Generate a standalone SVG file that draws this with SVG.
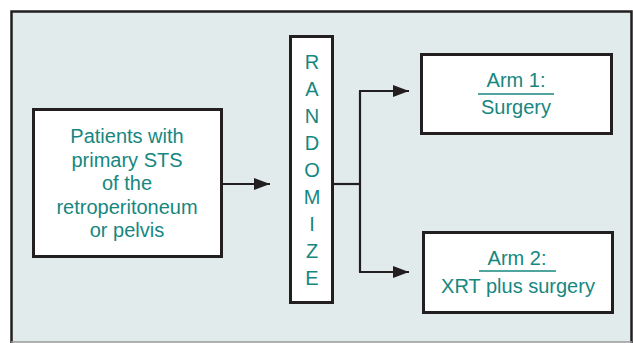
<svg xmlns="http://www.w3.org/2000/svg" width="633" height="343" viewBox="0 0 633 343">
<defs>
<style>
.box{fill:#ffffff;stroke:#231f20;stroke-width:3}
.t{font-family:"Liberation Sans",Arial,sans-serif;font-size:20px;fill:#16877f;text-anchor:middle}
.c{fill:none;stroke:#231f20;stroke-width:2.2}
.u{stroke:#16877f;stroke-width:1.5}
</style>
<marker id="ah" markerWidth="16" markerHeight="12" refX="16" refY="6" orient="auto" markerUnits="userSpaceOnUse">
<path d="M0,0 L16,6 L0,12 Z" fill="#231f20"/>
</marker>
</defs>
<rect x="0" y="0" width="633" height="343" fill="#ffffff"/>
<rect x="11" y="11" width="620" height="331" fill="#e1ebeb"/>
<path d="M11.5,343 L11.5,11.5 L631.5,11.5 L631.5,343" fill="none" stroke="#231f20" stroke-width="2.5"/>
<line x1="11" y1="342" x2="632" y2="342" stroke="#9a9a9a" stroke-width="1.5"/>
<g id="patients">
<rect class="box" x="33.5" y="109.5" width="188" height="147"/>
<text class="t" x="127" y="143">Patients with</text>
<text class="t" x="127" y="166.5">primary STS</text>
<text class="t" x="127" y="190">of the</text>
<text class="t" x="127" y="213.5">retroperitoneum</text>
<text class="t" x="127" y="237">or pelvis</text>
</g>
<g id="randomize">
<rect class="box" x="290.5" y="36.5" width="42" height="266"/>
<text class="t" x="312" y="69">R</text>
<text class="t" x="312" y="96">A</text>
<text class="t" x="312" y="123">N</text>
<text class="t" x="312" y="150">D</text>
<text class="t" x="312" y="177">O</text>
<text class="t" x="312" y="204">M</text>
<text class="t" x="312" y="231">I</text>
<text class="t" x="312" y="258">Z</text>
<text class="t" x="312" y="285">E</text>
</g>
<g id="arm1">
<rect class="box" x="421.5" y="54.5" width="190" height="79"/>
<text class="t" x="516" y="87">Arm 1:</text>
<line class="u" x1="478" y1="94" x2="554" y2="94"/>
<text class="t" x="516" y="114">Surgery</text>
</g>
<g id="arm2">
<rect class="box" x="423.5" y="232.5" width="189" height="80"/>
<text class="t" x="517" y="265">Arm 2:</text>
<line class="u" x1="479" y1="271" x2="556" y2="271"/>
<text class="t" x="518" y="293">XRT plus surgery</text>
</g>
<g id="connectors">
<line class="c" x1="223" y1="184" x2="270" y2="184" marker-end="url(#ah)"/>
<line class="c" x1="334" y1="184" x2="360" y2="184"/>
<path class="c" d="M360,91 L360,272"/>
<line class="c" x1="359" y1="91" x2="409" y2="91" marker-end="url(#ah)"/>
<line class="c" x1="359" y1="272" x2="409" y2="272" marker-end="url(#ah)"/>
</g>
</svg>
